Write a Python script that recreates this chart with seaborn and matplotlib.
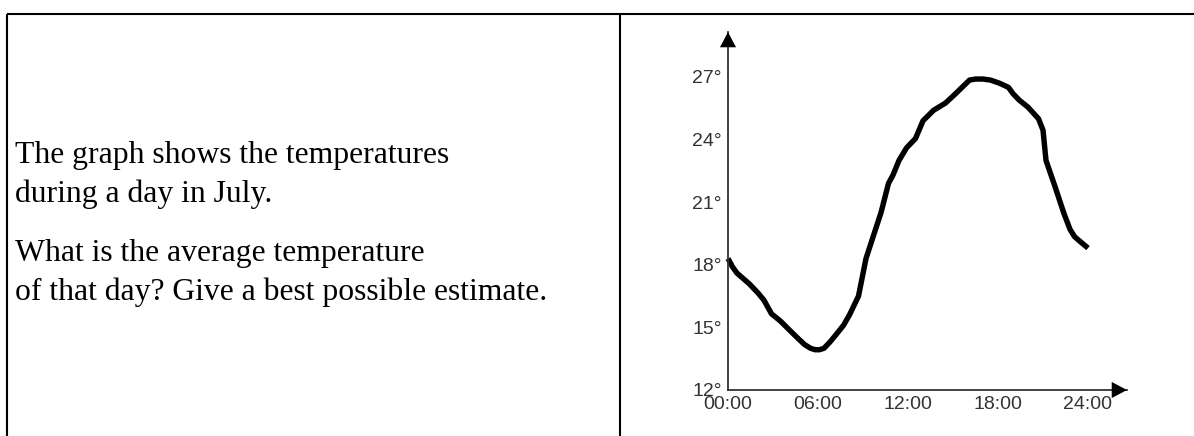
import matplotlib
matplotlib.use("Agg")
import matplotlib.pyplot as plt
from matplotlib.lines import Line2D
import seaborn as sns
import pandas as pd

# ---- data ----
hours = [0, 0.3, 0.6, 1.0, 1.4, 2.0, 2.4, 2.9, 3.5, 4.2, 4.7, 5.1, 5.5, 5.8,
         6.1, 6.4, 6.8, 7.2, 7.7, 8.1, 8.7, 9.2, 9.7, 10.2, 10.7, 11.0, 11.4,
         11.9, 12.5, 13.0, 13.7, 14.5, 15.1, 15.6, 16.1, 16.5, 17.0, 17.5,
         18.1, 18.7, 19.0, 19.4, 20.0, 20.7, 21.0, 21.2, 21.8, 22.4, 22.8,
         23.1, 23.5, 24.0]
temps = [18.3, 17.9, 17.6, 17.35, 17.1, 16.65, 16.3, 15.65, 15.3, 14.8, 14.45,
         14.18, 14.0, 13.93, 13.93, 14.0, 14.3, 14.65, 15.1, 15.6, 16.5, 18.3,
         19.4, 20.5, 21.9, 22.3, 23.0, 23.6, 24.05, 24.9, 25.4, 25.75, 26.15,
         26.5, 26.85, 26.9, 26.9, 26.85, 26.7, 26.5, 26.2, 25.9, 25.55, 25.0,
         24.45, 23.0, 21.75, 20.45, 19.7, 19.35, 19.1, 18.8]
x_ticks = [0, 6, 12, 18, 24]
x_tick_labels = ["00:00", "06:00", "12:00", "18:00", "24:00"]
y_ticks = [12, 15, 18, 21, 24, 27]
y_tick_labels = ["12°", "15°", "18°", "21°", "24°", "27°"]
question_lines = ["The graph shows the temperatures",
                  "during a day in July.",
                  "What is the average temperature",
                  "of that day? Give a best possible estimate."]

df = pd.DataFrame({"hour": hours, "temp": temps})

sns.set_theme(style="white")
plt.rcParams["font.family"] = ["Liberation Sans", "DejaVu Sans"]

W, H = 1194, 436
fig = plt.figure(figsize=(W / 100, H / 100), dpi=100)

# ---- frame lines (table borders) ----
top_y = 1 - 14 / H
lw_frame = 1.5
fig.add_artist(Line2D([7 / W, 1.0], [top_y, top_y], color="black", lw=lw_frame,
                      transform=fig.transFigure, solid_capstyle="butt"))
fig.add_artist(Line2D([7 / W, 7 / W], [0, top_y], color="black", lw=lw_frame,
                      transform=fig.transFigure, solid_capstyle="butt"))
fig.add_artist(Line2D([620 / W, 620 / W], [0, top_y], color="black", lw=lw_frame,
                      transform=fig.transFigure, solid_capstyle="butt"))

# ---- question text ----
baselines = [163, 202, 261, 300]
for line, yb in zip(question_lines, baselines):
    fig.text(15 / W, 1 - yb / H, line, va="baseline", ha="left",
             fontsize=22.8, family=["Liberation Serif", "DejaVu Serif"],
             color="black")

# ---- chart ----
x0_px, y0_px = 728, 390
px_per_h = 15.0
px_per_deg = 20.87
x_tip_px, y_tip_px = 1127, 32
xmax = (x_tip_px - x0_px) / px_per_h
ymax = 12 + (y0_px - y_tip_px) / px_per_deg

ax = fig.add_axes([x0_px / W, 1 - y0_px / H,
                   (x_tip_px - x0_px) / W, (y0_px - y_tip_px) / H])
ax.set_xlim(0, xmax)
ax.set_ylim(12, ymax)
ax.patch.set_alpha(0)

sns.lineplot(data=df, x="hour", y="temp", ax=ax, color="black", lw=3.9,
             solid_joinstyle="round", solid_capstyle="butt", clip_on=False)

for s in ["top", "right"]:
    ax.spines[s].set_visible(False)
for s in ["left", "bottom"]:
    ax.spines[s].set_color("#333333")
    ax.spines[s].set_linewidth(1.3)

ax.set_xticks(x_ticks)
ax.set_xticklabels(x_tick_labels)
ax.set_yticks(y_ticks)
ax.set_yticklabels(y_tick_labels)
ax.tick_params(axis="both", direction="inout", length=5, width=1,
               color="#333333", labelcolor="#333333", labelsize=14)
ax.tick_params(axis="x", pad=1.5)
ax.tick_params(axis="y", pad=2)
ax.set_xlabel("")
ax.set_ylabel("")
ax.grid(False)

# arrowheads at axis ends
arrow_kw = dict(arrowstyle="-|>,head_length=11,head_width=5.8",
                color="black", lw=0, shrinkA=0, shrinkB=0, mutation_scale=1)
ax.annotate("", xy=(0, 1), xytext=(0, 0.9), xycoords="axes fraction",
            arrowprops=arrow_kw, annotation_clip=False)
ax.annotate("", xy=(1, 0), xytext=(0.9, 0), xycoords="axes fraction",
            arrowprops=arrow_kw, annotation_clip=False)

fig.savefig("out.png", dpi=100)
